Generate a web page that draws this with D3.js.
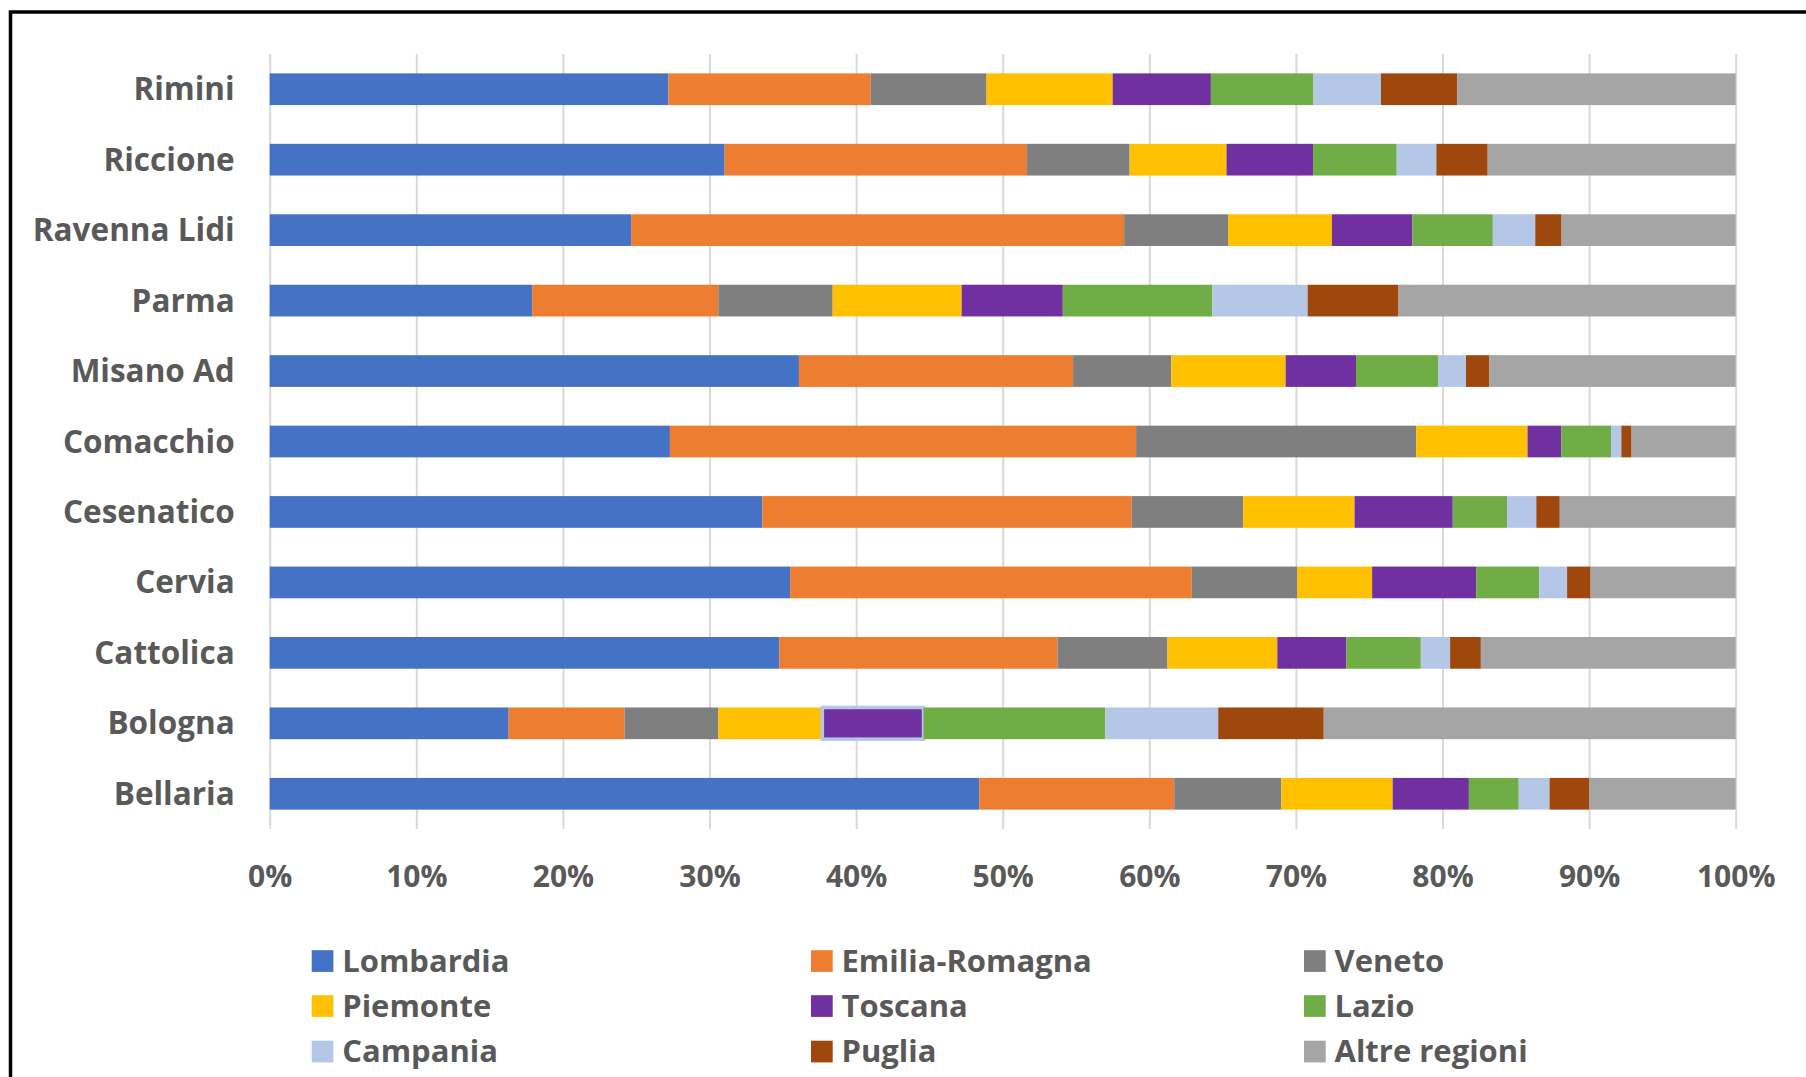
<!DOCTYPE html>
<html>
<head>
<meta charset="utf-8">
<script src="https://cdn.jsdelivr.net/npm/d3@7"></script>
<style>
  html, body { margin: 0; padding: 0; background: #fff; overflow: hidden; }
  svg { display: block; }
  text { font-family: "Open Sans", "Noto Sans", sans-serif; font-weight: 700; fill: #595959; }
</style>
</head>
<body>
<svg id="chart" width="1806" height="1077"></svg>
<script>
// ---- Data (percent shares) ----
const categories = ["Rimini", "Riccione", "Ravenna Lidi", "Parma", "Misano Ad", "Comacchio",
                    "Cesenatico", "Cervia", "Cattolica", "Bologna", "Bellaria"];
const seriesNames = ["Lombardia", "Emilia-Romagna", "Veneto", "Piemonte", "Toscana",
                     "Lazio", "Campania", "Puglia", "Altre regioni"];
const lombardia    = [27.2, 31.0, 24.7, 17.9, 36.1, 27.3, 33.6, 35.5, 34.8, 16.3, 48.4];
const emiliaRomagna= [13.8, 20.6, 33.7, 12.7, 18.7, 31.8, 25.2, 27.4, 19.0, 7.9, 13.3];
const veneto       = [7.9, 7.0, 7.1, 7.8, 6.7, 19.1, 7.6, 7.2, 7.5, 6.4, 7.3];
const piemonte     = [8.6, 6.6, 7.1, 8.8, 7.8, 7.6, 7.6, 5.1, 7.5, 7.1, 7.6];
const toscana      = [6.7, 5.9, 5.5, 6.9, 4.8, 2.3, 6.7, 7.1, 4.7, 6.9, 5.2];
const lazio        = [7.0, 5.7, 5.5, 10.2, 5.6, 3.4, 3.7, 4.3, 5.1, 12.4, 3.4];
const campania     = [4.6, 2.7, 2.9, 6.5, 1.9, 0.7, 2.0, 1.9, 2.0, 7.7, 2.1];
const puglia       = [5.2, 3.5, 1.8, 6.2, 1.6, 0.7, 1.6, 1.6, 2.1, 7.2, 2.7];
const altreRegioni = [19.0, 16.9, 11.9, 23.0, 16.8, 7.1, 12.0, 9.9, 17.4, 28.1, 10.0];
const tickValues = [0, 0.1, 0.2, 0.3, 0.4, 0.5, 0.6, 0.7, 0.8, 0.9, 1.0];

const seriesValues = [lombardia, emiliaRomagna, veneto, piemonte, toscana, lazio, campania, puglia, altreRegioni];
const colors = ["#4472C4", "#ED7D31", "#7F7F7F", "#FFC000", "#7030A0", "#70AD47", "#B4C7E7", "#9E480E", "#A5A5A5"];

// table for d3.stack
const table = categories.map((c, i) => {
  const row = { category: c };
  seriesNames.forEach((s, j) => row[s] = seriesValues[j][i]);
  return row;
});

// ---- Layout ----
const plot = { left: 269.7, right: 1735.7, top: 54, bottom: 829 };
const svg = d3.select("#chart");

svg.append("rect").attr("x", 0).attr("y", 0).attr("width", 1806).attr("height", 1077).attr("fill", "#fff");
// outer frame (continues beyond the picture on right / bottom)
svg.append("rect").attr("x", 10.5).attr("y", 12).attr("width", 2000).attr("height", 2000)
  .attr("fill", "none").attr("stroke", "#000").attr("stroke-width", 3.5);

const x = d3.scaleLinear().domain([0, 1]).range([plot.left, plot.right]);
const y = d3.scaleBand().domain(categories).range([plot.top, plot.bottom])
  .paddingInner(0.55).paddingOuter(0.275);

// gridlines
const grid = svg.append("g").attr("transform", `translate(0,${plot.bottom})`)
  .call(d3.axisBottom(x).tickValues(tickValues).tickSize(-(plot.bottom - plot.top)).tickFormat(""));
grid.select(".domain").remove();
grid.selectAll("line").attr("stroke", "#D9D9D9").attr("stroke-width", 2);

// stacked bars (100% stacked)
const stack = d3.stack().keys(seriesNames).offset(d3.stackOffsetExpand);
const layers = stack(table);

svg.append("g").selectAll("g").data(layers).join("g")
  .attr("fill", (d, i) => colors[i])
  .each(function(layer) {
    d3.select(this).selectAll("rect").data(layer).join("rect")
      .attr("x", d => x(d[0]))
      .attr("y", d => y(d.data.category))
      .attr("width", d => x(d[1]) - x(d[0]))
      .attr("height", y.bandwidth())
      .attr("stroke", d => (layer.key === "Toscana" && d.data.category === "Bologna") ? "#B4C7E7" : "none")
      .attr("stroke-width", 3.5);
  });

// x axis labels
const xAxis = svg.append("g").attr("transform", `translate(0,${plot.bottom})`)
  .call(d3.axisBottom(x).tickValues(tickValues).tickSize(0).tickPadding(0).tickFormat(d3.format(".0%")));
xAxis.select(".domain").remove();
xAxis.selectAll("text")
  .attr("y", 876.7 - plot.bottom).attr("dy", "0.35em")
  .style("font-size", "30px").attr("font-family", null);

// y axis labels
const yAxis = svg.append("g").attr("transform", `translate(${plot.left},0)`)
  .call(d3.axisLeft(y).tickSize(0).tickPadding(35));
yAxis.select(".domain").remove();
yAxis.selectAll("text").attr("dy", "0.35em").style("font-size", "31.5px").attr("font-family", null);

// legend
const legendCols = [311.7, 811, 1304];
const legendRows = [961, 1006, 1051.5];
const legend = svg.append("g");
seriesNames.forEach((name, i) => {
  const cx = legendCols[i % 3], cy = legendRows[Math.floor(i / 3)];
  const g = legend.append("g");
  g.append("rect").attr("x", cx).attr("y", cy - 10.8).attr("width", 21.7).attr("height", 21.7).attr("fill", colors[i]);
  g.append("text").attr("x", cx + 30.5).attr("y", cy).attr("dy", "0.35em")
    .style("font-size", "31px").text(name);
});
</script>
</body>
</html>
